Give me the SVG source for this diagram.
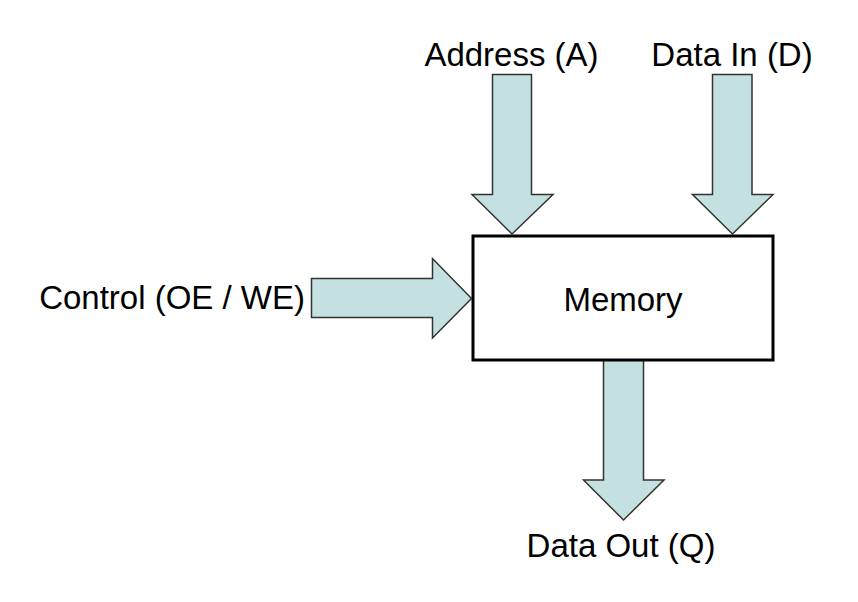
<svg xmlns="http://www.w3.org/2000/svg" width="858" height="602" viewBox="0 0 858 602">
<style>
.arrow{fill:#c4e0e1;stroke:#333;stroke-width:1.5;stroke-linejoin:miter}
.lbl{font-family:"Liberation Sans",Arial,sans-serif;font-size:33px;fill:#000}
.box{fill:#fff;stroke:#000;stroke-width:3}
</style>
<rect width="858" height="602" fill="#fff"/>
<g id="connectors">
<polygon class="arrow" points="492.5,74.5 531.5,74.5 531.5,194.5 553,194.5 512,234 472,194.5 492.5,194.5"/>
<polygon class="arrow" points="712.5,74.5 752,74.5 752,194.5 773,194.5 732.5,234 692.5,194.5 712.5,194.5"/>
<polygon class="arrow" points="311.5,278.5 432.5,278.5 432.5,258.5 471.5,298.5 432.5,338 432.5,317.5 311.5,317.5"/>
<polygon class="arrow" points="603.5,360 643.5,360 643.5,480 664,480 623.5,520 583.5,480 603.5,480"/>
</g>
<g id="memory">
<rect class="box" x="473" y="236" width="300" height="124"/>
<text class="lbl" x="623" y="311" text-anchor="middle">Memory</text>
</g>
<g id="address">
<text class="lbl" x="511.5" y="66" text-anchor="middle">Address (A)</text>
</g>
<g id="datain">
<text class="lbl" x="732" y="66" text-anchor="middle">Data In (D)</text>
</g>
<g id="control">
<text class="lbl" x="305" y="309" text-anchor="end">Control (OE / WE)</text>
</g>
<g id="dataout">
<text class="lbl" x="621" y="557" text-anchor="middle">Data Out (Q)</text>
</g>
</svg>
